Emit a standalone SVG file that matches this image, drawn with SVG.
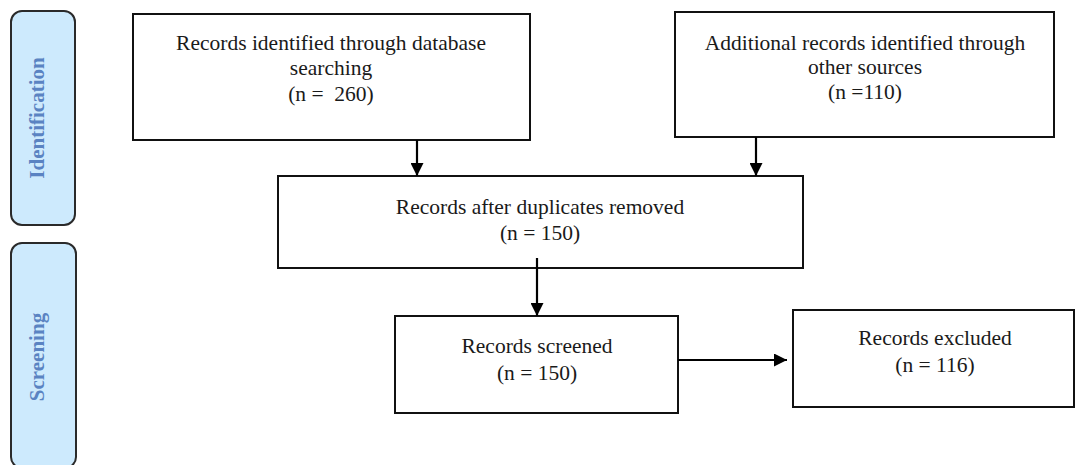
<svg xmlns="http://www.w3.org/2000/svg" width="1076" height="465" viewBox="0 0 1076 465">
<style>
.box{fill:#fff;stroke:#111;stroke-width:2}
.side{fill:#cdeafd;stroke:#2a2a2a;stroke-width:2}
.t{font-family:"Liberation Serif","Times New Roman",serif;font-size:21.5px;fill:#1a1a1a;text-anchor:middle}
.s{font-family:"Liberation Serif","Times New Roman",serif;font-size:21px;font-weight:bold;fill:#5a83c2;text-anchor:middle}
.c{stroke:#000;stroke-width:2.2;fill:none;marker-end:url(#ah)}
</style>
<defs>
<marker id="ah" viewBox="0 0 12 12" refX="12" refY="6" markerWidth="13" markerHeight="13" markerUnits="userSpaceOnUse" orient="auto">
<path d="M0,0 L12,6 L0,12 Z" fill="#000"/>
</marker>
</defs>
<g id="stage-identification">
<rect class="side" x="11" y="11" width="64" height="214" rx="11"/>
<text class="s" transform="translate(37,118) rotate(-90)" dy="0.35em">Identification</text>
</g>
<g id="stage-screening">
<rect class="side" x="11" y="243" width="65" height="225" rx="11"/>
<text class="s" transform="translate(37,357) rotate(-90)" dy="0.35em">Screening</text>
</g>
<g id="db-records">
<rect class="box" x="133" y="14" width="397" height="126"/>
<text class="t" x="331" y="50">Records identified through database</text>
<text class="t" x="331" y="75">searching</text>
<text class="t" x="331" y="101" xml:space="preserve">(n =  260)</text>
</g>
<g id="other-records">
<rect class="box" x="675" y="12" width="379" height="125"/>
<text class="t" x="865" y="50">Additional records identified through</text>
<text class="t" x="865" y="74">other sources</text>
<text class="t" x="865" y="99">(n =110)</text>
</g>
<g id="dedup">
<rect class="box" x="278" y="176" width="525" height="92"/>
<text class="t" x="540" y="214">Records after duplicates removed</text>
<text class="t" x="540" y="240">(n = 150)</text>
</g>
<g id="screened">
<rect class="box" x="395" y="316" width="283" height="97"/>
<text class="t" x="537" y="353">Records screened</text>
<text class="t" x="537" y="380">(n = 150)</text>
</g>
<g id="excluded">
<rect class="box" x="793" y="310" width="281" height="97"/>
<text class="t" x="935" y="345">Records excluded</text>
<text class="t" x="935" y="372">(n = 116)</text>
</g>
<g id="connectors">
<line class="c" x1="417" y1="140" x2="417" y2="176"/>
<line class="c" x1="756" y1="137" x2="756" y2="176"/>
<line class="c" x1="537" y1="258" x2="537" y2="316"/>
<line class="c" x1="678" y1="360" x2="787" y2="360"/>
</g>
</svg>
